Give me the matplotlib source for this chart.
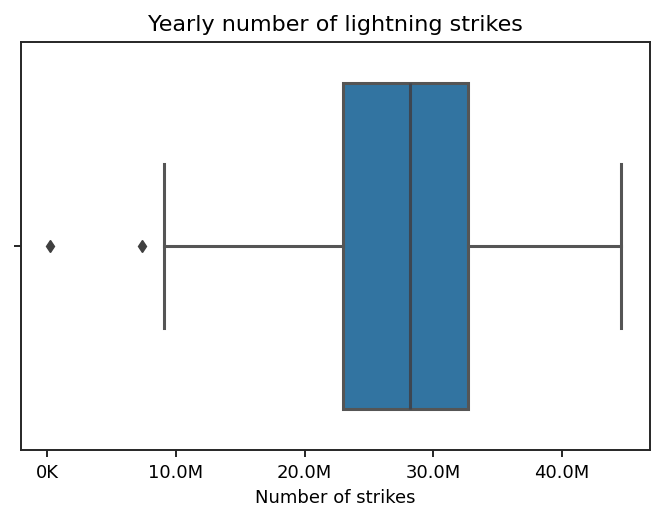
import matplotlib
matplotlib.use("Agg")
import matplotlib.pyplot as plt
from matplotlib.ticker import FuncFormatter

# Yearly lightning strike totals, summary
q1 = 23.0e6
median = 28.2e6
q3 = 32.7e6
whisker_low = 9.09e6
whisker_high = 44.6e6
outliers = [0.209e6, 7.38e6]

box_color = "#3274a1"
line_color = "#555555"


def readable(x, pos):
    if x == 0:
        return "0K"
    if abs(x) >= 1e6:
        return f"{x / 1e6:.1f}M"
    return f"{x / 1e3:.0f}K"


stats = [{
    "med": median,
    "q1": q1,
    "q3": q3,
    "whislo": whisker_low,
    "whishi": whisker_high,
    "fliers": outliers,
}]

fig = plt.figure(figsize=(6.6, 5.21), dpi=100)
ax = fig.add_axes([21 / 660, 1 - 450 / 521, 629 / 660, 408 / 521])

lw = 2.2
ax.bxp(
    stats,
    positions=[0],
    widths=0.8,
    vert=False,
    patch_artist=True,
    boxprops=dict(facecolor=box_color, edgecolor=line_color, linewidth=lw),
    medianprops=dict(color="#3d4651", linewidth=lw),
    whiskerprops=dict(color=line_color, linewidth=lw),
    capprops=dict(color=line_color, linewidth=lw),
    flierprops=dict(marker="d", markerfacecolor="#3f3f3f", markeredgecolor="#3f3f3f",
                    markersize=6, linestyle="none"),
    capwidths=0.4,
)

ax.set_ylim(0.5, -0.5)
ax.set_yticks([0])
ax.set_yticklabels([""])
ax.xaxis.set_major_formatter(FuncFormatter(readable))
ax.set_xticks([0, 10e6, 20e6, 30e6, 40e6])
ax.set_xlim(-2.01e6, 46.82e6)

ax.tick_params(labelsize=13, length=5, width=1.2, pad=5)
for s in ax.spines.values():
    s.set_linewidth(1.4)
    s.set_color("#262626")

ax.set_xlabel("Number of strikes", fontsize=13, labelpad=5)
ax.set_title("Yearly number of lightning strikes", fontsize=16, pad=8)

fig.savefig("out.png", dpi=100)
